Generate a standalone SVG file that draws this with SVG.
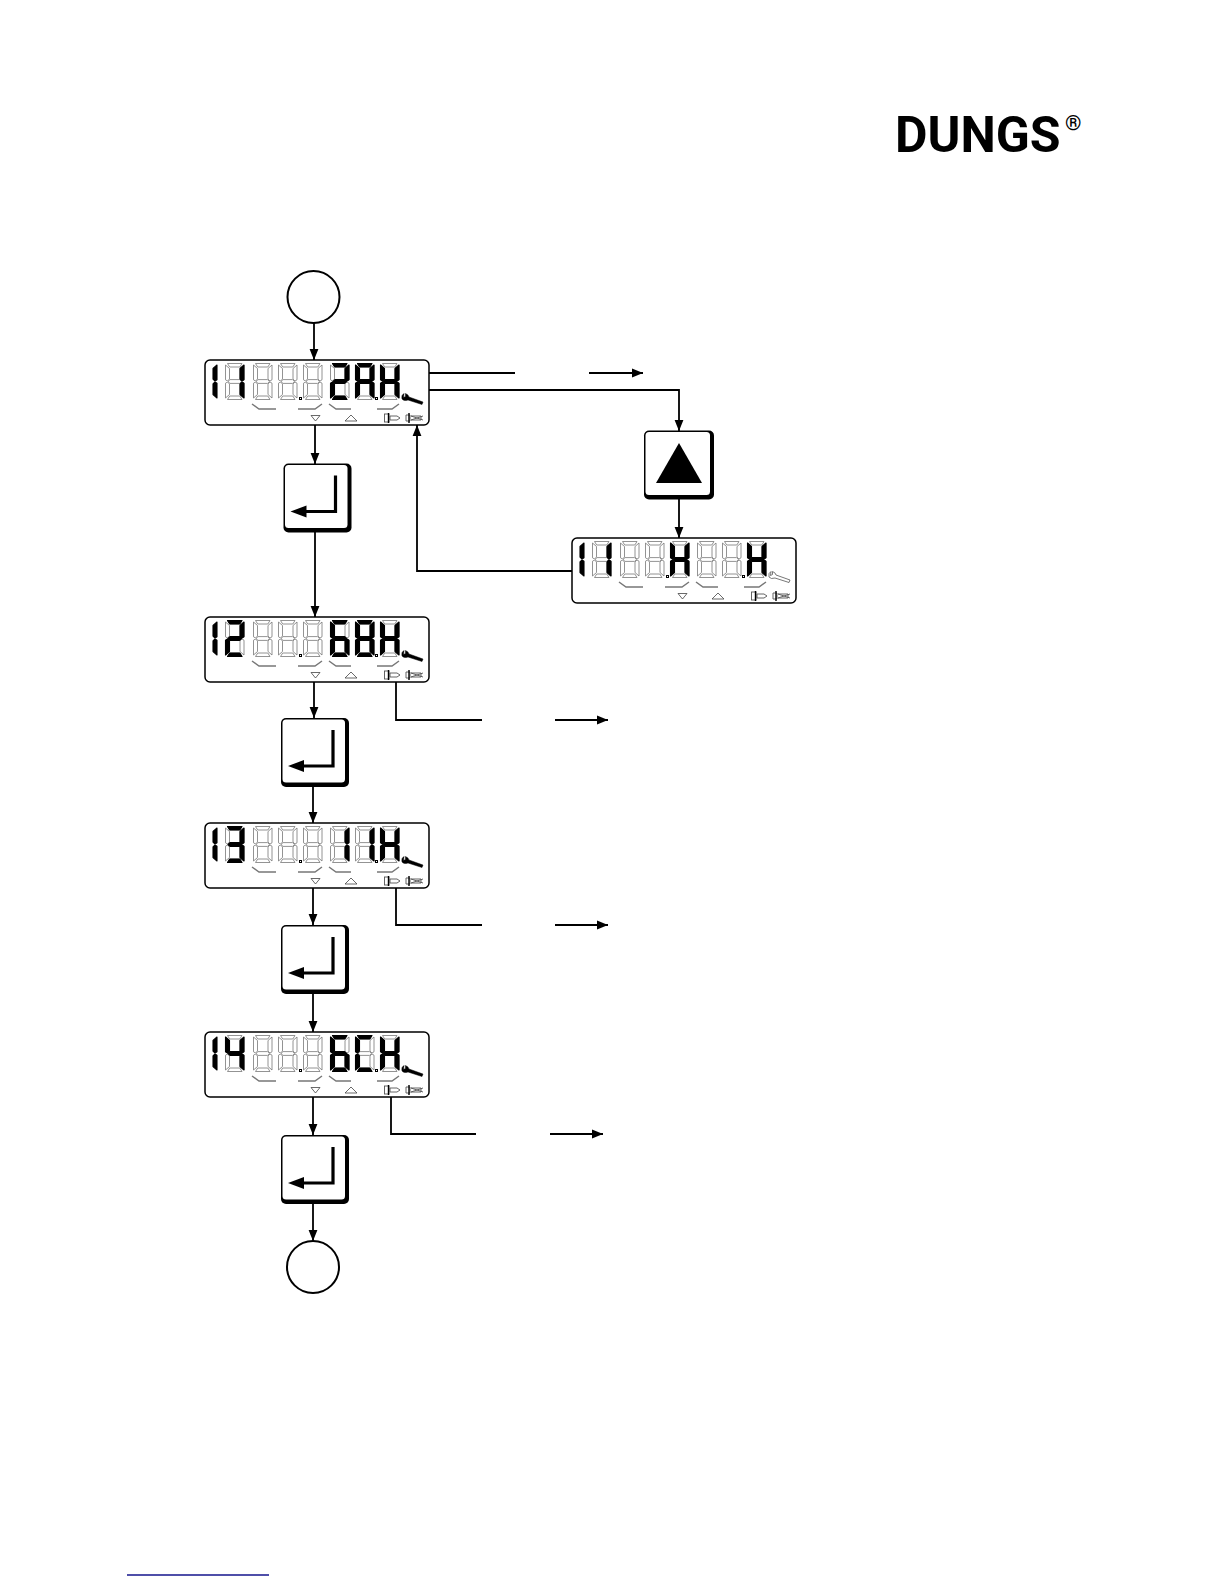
<svg xmlns="http://www.w3.org/2000/svg" width="1224" height="1584" viewBox="0 0 1224 1584">
<style>
.bg{fill:#fff}
.frame{fill:#fff;stroke:#000;stroke-width:1.5}
.grey{fill:#fff;stroke:#777;stroke-width:.8}
.on{fill:#000;stroke:#000;stroke-width:1.1;stroke-linejoin:round}
.bar{fill:none;stroke:#777;stroke-width:1.5}
.tri{fill:#fff;stroke:#444;stroke-width:.8}
.ic{fill:#fff;stroke:#555;stroke-width:.9}
.blk{fill:none;stroke:#000;stroke-width:1.4}
.wr{fill:#000;stroke:#000;stroke-width:.5}
.wr0{fill:#fff;stroke:#555;stroke-width:.8}
.cn{fill:none;stroke:#000;stroke-width:1.8}
.ar{marker-end:url(#head)}
.circ{fill:#fff;stroke:#000;stroke-width:2}
.logo{font-family:Roboto,"Liberation Sans",Arial,sans-serif;fill:#000;font-weight:700}
</style>
<defs>
<marker id="head" markerUnits="userSpaceOnUse" markerWidth="11" markerHeight="10" refX="11" refY="5" orient="auto">
<path d="M0,.6 L11,5 L0,9.4 Z" fill="#000"/>
</marker>
<polygon id="sa" points="2.5,.5 17,.5 14.8,4 4.7,4"/>
<polygon id="sb" points="19,2 15,5.5 15,16 17,18 19,16.8"/>
<polygon id="sc" points="19,20.2 17,19 15,21 15,31.5 19,35"/>
<polygon id="sd" points="2.5,36.5 17,36.5 14.8,33 4.7,33"/>
<polygon id="se" points=".5,20.2 2.5,19 4.5,21 4.5,31.5 .5,35"/>
<polygon id="sf" points=".5,2 4.5,5.5 4.5,16 2.5,18 .5,16.8"/>
<polygon id="sg" points="3,18.5 5,16.6 14.5,16.6 16.5,18.5 14.5,20.4 5,20.4"/>
<g id="n8"><use href="#sa"/><use href="#sb"/><use href="#sc"/><use href="#sd"/><use href="#se"/><use href="#sf"/><use href="#sg"/></g>
<g id="n1"><use href="#sb"/><use href="#sc"/></g>
<g id="n2"><use href="#sa"/><use href="#sb"/><use href="#sg"/><use href="#se"/><use href="#sd"/></g>
<g id="n3"><use href="#sa"/><use href="#sb"/><use href="#sg"/><use href="#sc"/><use href="#sd"/></g>
<g id="n4"><use href="#sf"/><use href="#sg"/><use href="#sb"/><use href="#sc"/></g>
<g id="n6"><use href="#sa"/><use href="#sf"/><use href="#sg"/><use href="#se"/><use href="#sc"/><use href="#sd"/></g>
<g id="nA"><use href="#sa"/><use href="#sf"/><use href="#sb"/><use href="#sg"/><use href="#se"/><use href="#sc"/></g>
<g id="nC"><use href="#sa"/><use href="#sf"/><use href="#se"/><use href="#sd"/></g>
<g id="nH"><use href="#sf"/><use href="#sb"/><use href="#sg"/><use href="#se"/><use href="#sc"/></g>
<g id="panel">
<rect class="frame" x="0" y="0" width="224" height="65" rx="5"/>
<g class="grey">
<use href="#n8" x="20" y="3"/><use href="#n8" x="48" y="3"/><use href="#n8" x="73" y="3"/><use href="#n8" x="98" y="3"/><use href="#n8" x="125" y="3"/><use href="#n8" x="150" y="3"/><use href="#n8" x="175" y="3"/>
</g>
<rect x="94.5" y="37.5" width="2" height="2" fill="#fff" stroke="#000" stroke-width="1"/>
<rect x="170.5" y="37.5" width="2" height="2" fill="#fff" stroke="#000" stroke-width="1"/>
<g class="bar">
<path d="M47,44 L54,49 H71"/><path d="M93,49 H110 L117,44"/><path d="M124,44 L131,49 H146"/><path d="M172,49 H187 L194,44"/>
</g>
<polygon class="tri" points="106,55.5 115,55.5 110.5,61"/>
<polygon class="tri" points="140,61 152,61 146,55"/>
<rect class="ic" x="179.5" y="54" width="4.5" height="8"/>
<path class="ic" d="M185,56 H192 L195,58 L192,60 H185 Z"/>
<path class="ic" d="M201,55 H205 V61 H201 Z M206,56 L218,60 M206,60 L218,56 M206,56 H216 V60 H206"/>
<path class="blk" d="M183.5,53 V63 M204,53 V63"/>
</g>
<path id="wrench" d="M199,33.5 Q196,35 197,39 Q199,41.5 203,40 L217,44.5 L218,42 L204,37 Q203.5,34.5 200.5,33.5 L200.5,36.5 L198.5,37.5 Z"/>
<g id="enter">
<rect x="0" y="0" width="68" height="69" rx="5" fill="#000"/>
<rect x="1.5" y="1.5" width="62.5" height="63" rx="3.5" fill="#fff"/>
<path d="M52,12 V48 H20" fill="none" stroke="#000" stroke-width="3.2"/>
<polygon points="7,48 23,42 23,54" fill="#000"/>
</g>
</defs>
<rect class="bg" width="1224" height="1584"/>

<g id="logo">
<text class="logo" x="895" y="152" font-size="50">DUNGS</text>
<text class="logo" x="1065" y="130" font-size="21" font-weight="400">®</text>
</g>

<g id="connectors">
<path class="cn ar" d="M314,323 V360"/>
<path class="cn ar" d="M315,425 V464"/>
<path class="cn ar" d="M315,532 V617"/>
<path class="cn ar" d="M314,682 V718"/>
<path class="cn ar" d="M313,787 V823"/>
<path class="cn ar" d="M313,888 V925"/>
<path class="cn ar" d="M313,994 V1032"/>
<path class="cn ar" d="M313,1097 V1135"/>
<path class="cn ar" d="M313,1204 V1241"/>
<path class="cn" d="M429,373 H515"/>
<path class="cn ar" d="M589,373 H643"/>
<path class="cn ar" d="M429,390 H679 V431"/>
<path class="cn ar" d="M679,499 V538"/>
<path class="cn ar" d="M572,571 H417 V425"/>
<path class="cn" d="M396,682 V720 H482"/>
<path class="cn ar" d="M555,720 H608"/>
<path class="cn" d="M396,888 V925 H482"/>
<path class="cn ar" d="M555,925 H608"/>
<path class="cn" d="M391,1097 V1134 H476"/>
<path class="cn ar" d="M550,1134 H603"/>
</g>

<g id="start"><circle class="circ" cx="313.5" cy="297" r="26"/></g>

<g id="display-11" transform="translate(205,360)">
<use href="#panel"/>
<g class="on"><use href="#n1" x="-7" y="3"/><use href="#n1" x="20" y="3"/><use href="#n2" x="125" y="3"/><use href="#nA" x="150" y="3"/><use href="#nH" x="175" y="3"/></g>
<use href="#wrench" class="wr"/>
</g>

<g id="key-enter-1"><use href="#enter" x="283.5" y="463.5"/></g>

<g id="key-up">
<rect x="644" y="430.5" width="70" height="69" rx="5" fill="#000"/>
<rect x="645.5" y="432" width="64.5" height="63" rx="3.5" fill="#fff"/>
<polygon points="679,443 702,483 656,483" fill="#000"/>
</g>

<g id="display-11b" transform="translate(572,538)">
<use href="#panel"/>
<g class="on"><use href="#n1" x="-7" y="3"/><use href="#n1" x="20" y="3"/><use href="#nH" x="98" y="3"/><use href="#nH" x="175" y="3"/></g>
<use href="#wrench" class="wr0"/>
</g>

<g id="display-12" transform="translate(205,617)">
<use href="#panel"/>
<g class="on"><use href="#n1" x="-7" y="3"/><use href="#n2" x="20" y="3"/><use href="#n6" x="125" y="3"/><use href="#n8" x="150" y="3"/><use href="#nH" x="175" y="3"/></g>
<use href="#wrench" class="wr"/>
</g>

<g id="key-enter-2"><use href="#enter" x="281" y="718"/></g>

<g id="display-13" transform="translate(205,823)">
<use href="#panel"/>
<g class="on"><use href="#n1" x="-7" y="3"/><use href="#n3" x="20" y="3"/><use href="#n1" x="125" y="3"/><use href="#n1" x="150" y="3"/><use href="#nH" x="175" y="3"/></g>
<use href="#wrench" class="wr"/>
</g>

<g id="key-enter-3"><use href="#enter" x="281" y="925"/></g>

<g id="display-14" transform="translate(205,1032)">
<use href="#panel"/>
<g class="on"><use href="#n1" x="-7" y="3"/><use href="#n4" x="20" y="3"/><use href="#n6" x="125" y="3"/><use href="#nC" x="150" y="3"/><use href="#nH" x="175" y="3"/></g>
<use href="#wrench" class="wr"/>
</g>

<g id="key-enter-4"><use href="#enter" x="281" y="1135"/></g>

<g id="end"><circle class="circ" cx="313" cy="1267" r="26"/></g>

<path id="footer-rule" d="M127,1575 H269" fill="none" stroke="#14148c" stroke-width="1.3"/>
</svg>
